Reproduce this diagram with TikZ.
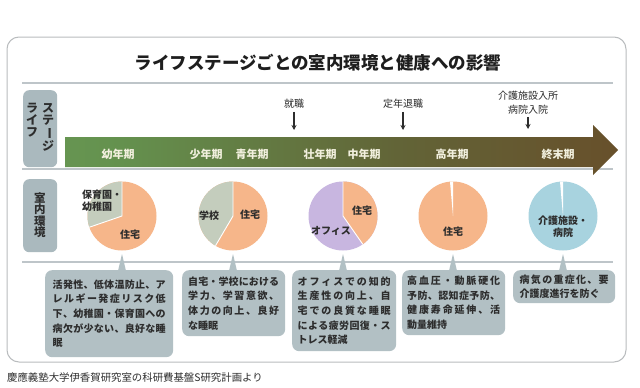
\documentclass[tikz,border=0pt]{standalone}
\usepackage{fontspec}
\usepackage{graphicx}
\setmainfont{Noto Sans CJK JP}
\usetikzlibrary{arrows.meta,calc}
\definecolor{outerc}{RGB}{185,188,190}
\definecolor{sepc}{RGB}{190,197,201}
\definecolor{tagc}{RGB}{170,185,190}
\definecolor{cboxc}{RGB}{178,192,196}
\definecolor{darktxt}{RGB}{45,45,45}
\definecolor{titlec}{RGB}{30,30,30}
\definecolor{stagetxt}{RGB}{242,240,222}
\definecolor{orng}{RGB}{246,182,138}
\definecolor{pgrn}{RGB}{196,205,189}
\definecolor{lav}{RGB}{200,182,224}
\definecolor{lblue}{RGB}{168,211,223}
\definecolor{shA}{RGB}{114,168,98}
\definecolor{shB}{RGB}{100,145,78}
\definecolor{shC}{RGB}{98,100,55}
\definecolor{shD}{RGB}{105,75,40}
\definecolor{shE}{RGB}{106,60,32}
\pgfdeclarehorizontalshading{lifeshade}{100bp}{color(0bp)=(shA); color(30bp)=(shB); color(55bp)=(shC); color(80bp)=(shD); color(100bp)=(shE)}
\def\jlA#1#2{#1\ifx\relax#2\else\hfil\expandafter\jlA\expandafter#2\fi}
\newcommand\jl[2]{\leavevmode\hbox to #1{\jlA#2\relax}}
\begin{document}
\begin{tikzpicture}[x=1pt,y=-1pt,
  outerbox/.style={draw=outerc, line width=1pt, rounded corners=12pt},
  sepline/.style={draw=sepc, line width=1.1pt},
  tagbox/.style={fill=tagc, rounded corners=6pt, anchor=north west, inner sep=0pt},
  tagtxt/.style={text=darktxt, font=\bfseries\fontsize{12}{12}\selectfont, align=center, inner sep=0pt},
  stagelbl/.style={text=stagetxt, font=\bfseries\fontsize{11}{11}\selectfont, inner sep=0pt},
  evlbl/.style={text=darktxt, font=\fontsize{10}{14}\selectfont, inner sep=1pt, align=center},
  evarrow/.style={-{Stealth[length=5pt,width=5pt]}, line width=1.1pt, draw=darktxt},
  pielbl/.style={text=darktxt, font=\bfseries\fontsize{10}{12}\selectfont, inner sep=0pt},
  cbox/.style={fill=cboxc, rounded corners=7pt, anchor=north west, inner ysep=3pt,
    text=darktxt, font=\bfseries\fontsize{10}{14.7}\selectfont, align=left},
  sepwhite/.style={draw=white, line width=0.9pt}]
\useasboundingbox (0,0) rectangle (640,388);
\fill[white] (0,0) rectangle (640,388);
% outer frame
\draw[outerbox] (7,37) rectangle (626,362);
% title
\node[font=\bfseries\fontsize{17.5}{20}\selectfont, text=titlec] (title) at (318,63) {ライフステージごとの室内環境と健康への影響};
% separators
\draw[sepline] (22,83) -- (613,83);
\draw[sepline] (22,169) -- (613,169);
\draw[sepline] (22,262) -- (613,262);
% tag boxes
\node[tagbox, minimum width=34pt, minimum height=77pt] (tag1) at (23,90) {};
\node[tagtxt, anchor=north] (t1a) at (32,103) {ラ\\イ\\フ};
\node[tagtxt, anchor=north] (t1b) at (48,103) {ス\\テ\\\rotatebox[origin=c]{-90}{ー}\\ジ};
\node[tagbox, minimum width=34pt, minimum height=73pt] (tag2) at (23,179) {};
\node[tagtxt, font=\bfseries\fontsize{11.5}{11.5}\selectfont] (t2) at (40,215) {室\\内\\環\\境};
% life arrow
\shade[shading=lifeshade] (65,137) -- (593,137) -- (593,125) -- (618,150) -- (593,175) -- (593,167) -- (65,167) -- cycle;
\node[stagelbl] (s1) at (118,154) {幼年期};
\node[stagelbl] (s2) at (206,154) {少年期};
\node[stagelbl] (s3) at (252,154) {青年期};
\node[stagelbl] (s4) at (320,154) {壮年期};
\node[stagelbl] (s5) at (364,154) {中年期};
\node[stagelbl] (s6) at (452,154) {高年期};
\node[stagelbl] (s7) at (558,154) {終末期};
% events
\node[evlbl] (e1) at (294,104) {就職};
\coordinate (e1t) at (294,130);
\draw[evarrow] ([yshift=-2pt]e1.south) -- (e1t);
\node[evlbl] (e2) at (403,104) {定年退職};
\coordinate (e2t) at (403,130);
\draw[evarrow] ([yshift=-2pt]e2.south) -- (e2t);
\node[evlbl] (e3) at (528,103) {介護施設入所\\病院入院};
\coordinate (e3t) at (528,129);
\draw[evarrow] ([yshift=-1pt]e3.south) -- (e3t);
% pies
\def\R{34.5}
\coordinate (p1) at (122,216);
\coordinate (p2) at (233,216);
\coordinate (p3) at (343,216);
\coordinate (p4) at (453,216);
\coordinate (p5) at (563,216);
\fill[orng] (p1) circle[radius=\R];
\fill[pgrn] (p1) -- ($(p1)+(-90:\R)$) arc[start angle=-90,end angle=-199,radius=\R] -- cycle;
\draw[sepwhite] ($(p1)+(-90:\R)$) -- (p1) -- ($(p1)+(-199:\R)$);
\fill[orng] (p2) circle[radius=\R];
\fill[pgrn] (p2) -- ($(p2)+(-90:\R)$) arc[start angle=-90,end angle=-239.5,radius=\R] -- cycle;
\draw[sepwhite] ($(p2)+(-90:\R)$) -- (p2) -- ($(p2)+(-239.5:\R)$);
\fill[lav] (p3) circle[radius=\R];
\fill[orng] (p3) -- ($(p3)+(-90:\R)$) arc[start angle=-90,end angle=55,radius=\R] -- cycle;
\draw[sepwhite] ($(p3)+(-90:\R)$) -- (p3) -- ($(p3)+(55:\R)$);
\fill[orng] (p4) circle[radius=\R];
\fill[white] (p4) -- ($(p4)+(-90:\R)$) arc[start angle=-90,end angle=-95,radius=\R] -- cycle;
\fill[lblue] (p5) circle[radius=\R];
\fill[white] (p5) -- ($(p5)+(-90:\R)$) arc[start angle=-90,end angle=-95,radius=\R] -- cycle;
% pie labels
\node[pielbl, align=left, anchor=west] (l1a) at (82,201) {保育園・\\幼稚園};
\node[pielbl] (l1b) at (130,235) {住宅};
\node[pielbl] (l2a) at (209,216) {学校};
\node[pielbl] (l2b) at (250,215) {住宅};
\node[pielbl] (l3a) at (362,211) {住宅};
\node[pielbl] (l3b) at (331,231) {オフィス};
\node[pielbl] (l4) at (453,232) {住宅};
\node[pielbl, align=center] (l5) at (563,227) {介護施設・\\病院};
% callout boxes
\node[cbox, text width=113pt, inner xsep=7.5pt, minimum height=87pt] (b1) at (45,270)
  {\jl{113pt}{活発性、低体温防止、ア}\\\jl{113pt}{レルギー発症リスク低}\\\jl{113pt}{下、幼稚園・保育園への}\\\jl{113pt}{病欠が少ない、良好な睡}\\眠};
\node[cbox, text width=91pt, inner xsep=6pt, minimum height=66pt] (b2) at (182,270)
  {\jl{91pt}{自宅・学校における}\\\jl{91pt}{学力、学習意欲、}\\\jl{91pt}{体力の向上、良好}\\な睡眠};
\node[cbox, text width=93pt, inner xsep=5.5pt, minimum height=81pt] (b3) at (292,270)
  {\jl{93pt}{オフィスでの知的}\\\jl{93pt}{生産性の向上、自}\\\jl{93pt}{宅での良質な睡眠}\\\jl{93pt}{による疲労回復・ス}\\トレス軽減};
\node[cbox, text width=93pt, inner xsep=5pt, minimum height=65pt] (b4) at (402,270)
  {\jl{93pt}{高血圧・動脈硬化}\\\jl{93pt}{予防、認知症予防、}\\\jl{93pt}{健康寿命延伸、活}\\動量維持};
\node[cbox, text width=89pt, inner xsep=6.5pt, minimum height=33pt] (b5) at (513,270)
  {\jl{89pt}{病気の重症化、要}\\介護度進行を防ぐ};
% pointers
\foreach \p/\b in {p1/b1,p2/b2,p3/b3,p4/b4,p5/b5}{
  \fill[cboxc] ($(\p |- \b.north)+(-4.5,3)$) -- ($(\p |- \b.north)+(0,-16)$) -- ($(\p |- \b.north)+(4.5,3)$) -- cycle;
}
% source
\node[anchor=west, font=\fontsize{10.4}{12}\selectfont, text=darktxt, inner sep=0pt] (src) at (7,378) {慶應義塾大学伊香賀研究室の科研費基盤S研究計画より};
\end{tikzpicture}
\end{document}
